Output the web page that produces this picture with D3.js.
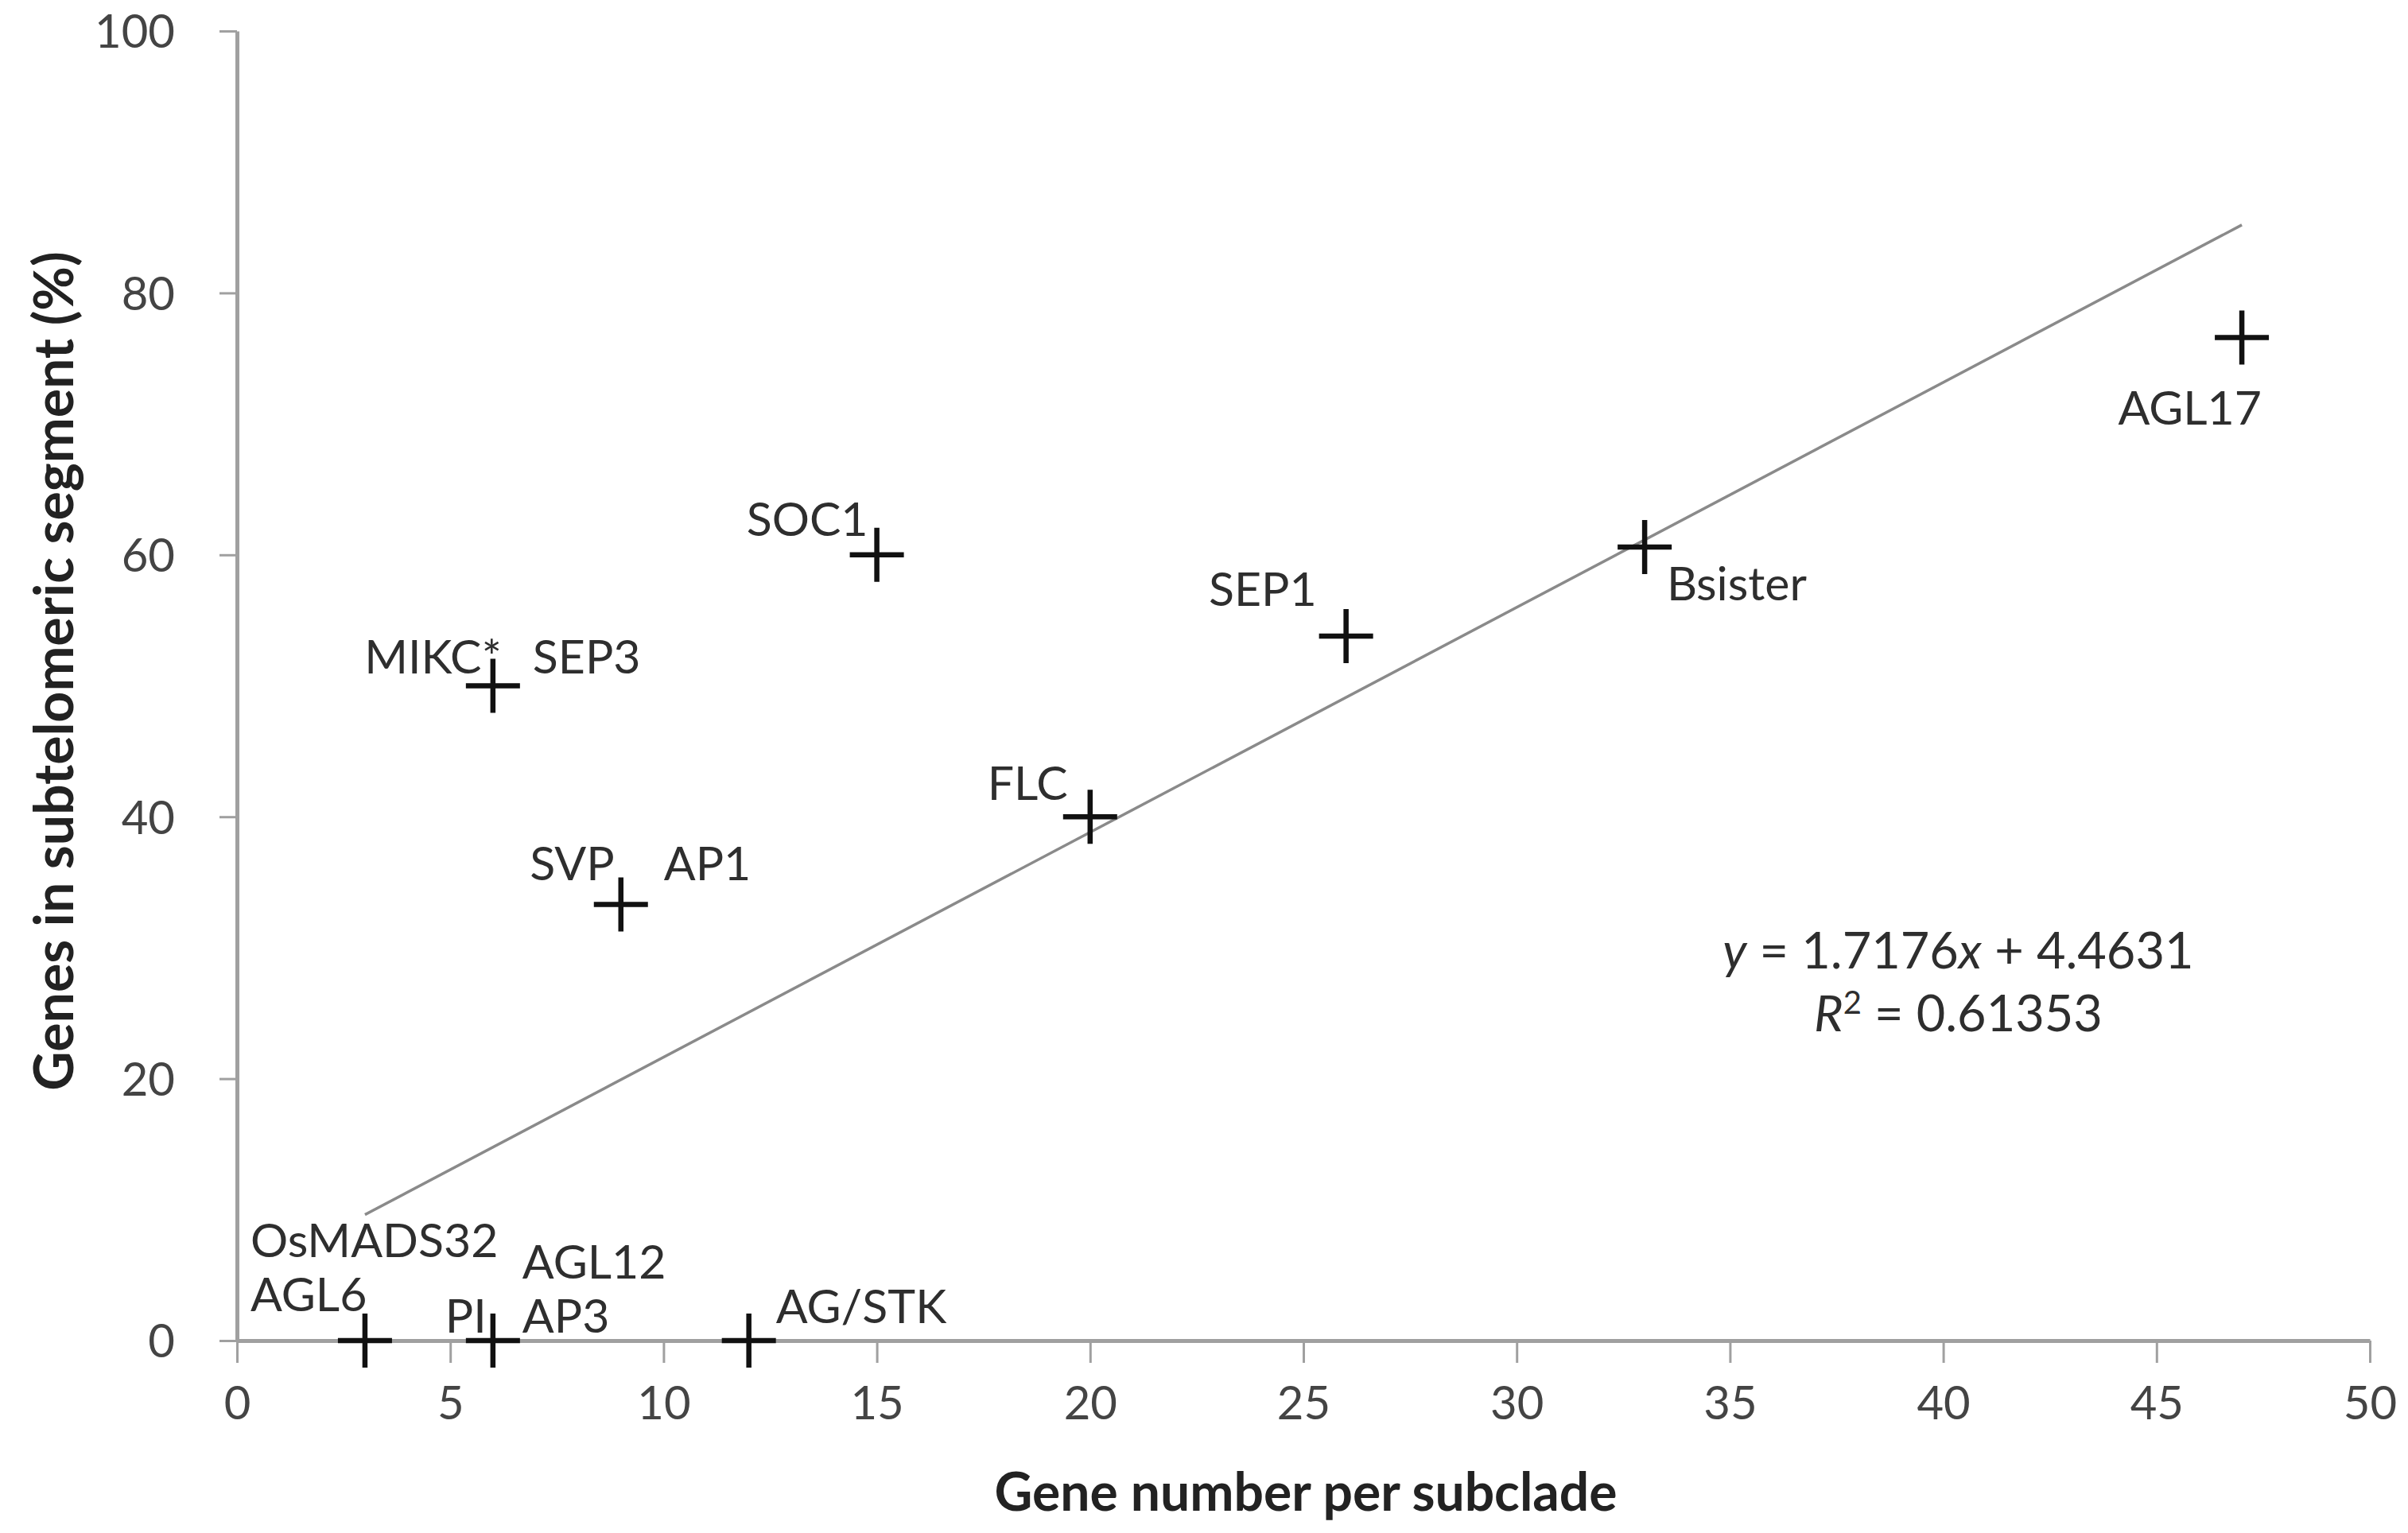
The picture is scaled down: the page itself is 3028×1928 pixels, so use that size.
<!DOCTYPE html>
<html>
<head>
<meta charset="utf-8">
<script src="https://cdn.jsdelivr.net/npm/d3@7"></script>
<style>
  body { margin: 0; background: #fff; }
  svg { display: block; font-family: Lato, "Open Sans", sans-serif; }
</style>
</head>
<body>
<div id="chart"></div>
<script>
// data
var geneCount = [3, 6, 12, 6, 9, 15, 20, 26, 33, 47];
var pctSubtelomeric = [0, 0, 0, 50, 33.3, 60, 40, 53.8, 60.6, 76.6];

// point labels and the point each belongs to
var labelText = ["OsMADS32", "AGL6", "AGL12", "PI", "AP3", "AG/STK", "MIKC*", "SEP3",
                 "SVP", "AP1", "SOC1", "FLC", "SEP1", "Bsister", "AGL17"];
var labelPoint = [0, 0, 1, 1, 1, 2, 3, 3, 4, 4, 5, 6, 7, 8, 9];

var xTicks = [0, 5, 10, 15, 20, 25, 30, 35, 40, 45, 50];
var yTicks = [0, 20, 40, 60, 80, 100];

var trendSlope = 1.7176, trendIntercept = 4.4631, rSquared = 0.61353;
var trendRange = [3, 47];

// label placement relative to its point (dx, dy, anchor) -- layout only
var labelPlace = [
  [-144, -126, "start"], [-144, -58, "start"], [37, -99, "start"], [-60, -31, "start"],
  [37, -31, "start"], [34, -43, "start"], [11, -37, "end"], [50, -37, "start"],
  [-8, -52, "end"], [54, -52, "start"], [-11, -45, "end"], [-28, -42, "end"],
  [-37, -59, "end"], [28, 46, "start"], [25, 88, "end"]
];

var W = 3028, H = 1928;
var margin = {left: 298, right: 48, top: 39, bottom: 242};

var svg = d3.select("#chart").append("svg")
    .attr("width", W)
    .attr("height", H);

var x = d3.scaleLinear().domain([0, 50]).range([margin.left, W - margin.right]);
var y = d3.scaleLinear().domain([0, 100]).range([H - margin.bottom, margin.top]);

var axisColor = "#a0a0a0", tickText = "#444", labelColor = "#2e2e2e";

// x axis
var gx = svg.append("g")
    .attr("transform", "translate(0," + y(0) + ")")
    .call(d3.axisBottom(x).tickValues(xTicks).tickSize(28).tickSizeOuter(0).tickPadding(30));
// y axis
var gy = svg.append("g")
    .attr("transform", "translate(" + x(0) + ",0)")
    .call(d3.axisLeft(y).tickValues(yTicks).tickSize(22).tickSizeOuter(0).tickPadding(56));

[gx, gy].forEach(function(g) {
  g.select(".domain").attr("stroke", axisColor).attr("stroke-width", 5);
  g.selectAll(".tick line").attr("stroke", axisColor).attr("stroke-width", 3);
  g.selectAll(".tick text")
    .attr("fill", tickText)
    .style("font-size", "58px")
    .style("font-family", "Lato, sans-serif");
});
gy.selectAll(".tick text").attr("dy", "0.36em");

// trend line
svg.append("line")
    .attr("x1", x(trendRange[0]))
    .attr("y1", y(trendSlope * trendRange[0] + trendIntercept))
    .attr("x2", x(trendRange[1]))
    .attr("y2", y(trendSlope * trendRange[1] + trendIntercept))
    .attr("stroke", "#8a8a8a")
    .attr("stroke-width", 3.5);

// + markers
var arm = 34;
var pts = geneCount.map(function(g, i) { return {g: g, p: pctSubtelomeric[i]}; });
var mk = svg.append("g").attr("stroke", "#111").attr("stroke-width", 6.5);
mk.selectAll("path").data(pts).enter().append("path")
    .attr("fill", "none")
    .attr("d", function(d) {
      var px = x(d.g), py = y(d.p);
      return "M" + (px - arm) + "," + py + "H" + (px + arm) +
             "M" + px + "," + (py - arm) + "V" + (py + arm);
    });

// point labels
svg.append("g").selectAll("text").data(labelText).enter().append("text")
    .attr("x", function(d, i) { return x(geneCount[labelPoint[i]]) + labelPlace[i][0]; })
    .attr("y", function(d, i) { return y(pctSubtelomeric[labelPoint[i]]) + labelPlace[i][1]; })
    .attr("dy", "0.36em")
    .attr("text-anchor", function(d, i) { return labelPlace[i][2]; })
    .attr("fill", labelColor)
    .style("font-size", "59px")
    .text(function(d) { return d; });

// regression equation
var eqX = x(40.35);
var eq = svg.append("text")
    .attr("x", eqX).attr("y", y(28.4))
    .attr("text-anchor", "middle")
    .attr("fill", labelColor)
    .style("font-size", "63px");
eq.append("tspan").style("font-style", "italic").text("y");
eq.append("tspan").text(" = " + trendSlope);
eq.append("tspan").style("font-style", "italic").text("x");
eq.append("tspan").text(" + " + trendIntercept);

var r2 = svg.append("text")
    .attr("x", eqX).attr("y", y(23.6))
    .attr("text-anchor", "middle")
    .attr("fill", labelColor)
    .style("font-size", "63px");
r2.append("tspan").style("font-style", "italic").text("R");
r2.append("tspan").attr("dy", -22).style("font-size", "40px").text("2");
r2.append("tspan").attr("dy", 22).text(" = " + rSquared);

// axis titles
svg.append("text")
    .attr("x", (x(0) + x(50)) / 2 + 3)
    .attr("y", 1900)
    .attr("text-anchor", "middle")
    .attr("fill", "#222")
    .style("font-size", "66px")
    .style("font-weight", "bold")
    .text("Gene number per subclade");

svg.append("text")
    .attr("transform", "translate(92," + 844 + ") rotate(-90)")
    .attr("text-anchor", "middle")
    .attr("fill", "#222")
    .style("font-size", "68px")
    .style("font-weight", "bold")
    .text("Genes in subtelomeric segment (%)");
</script>
</body>
</html>
